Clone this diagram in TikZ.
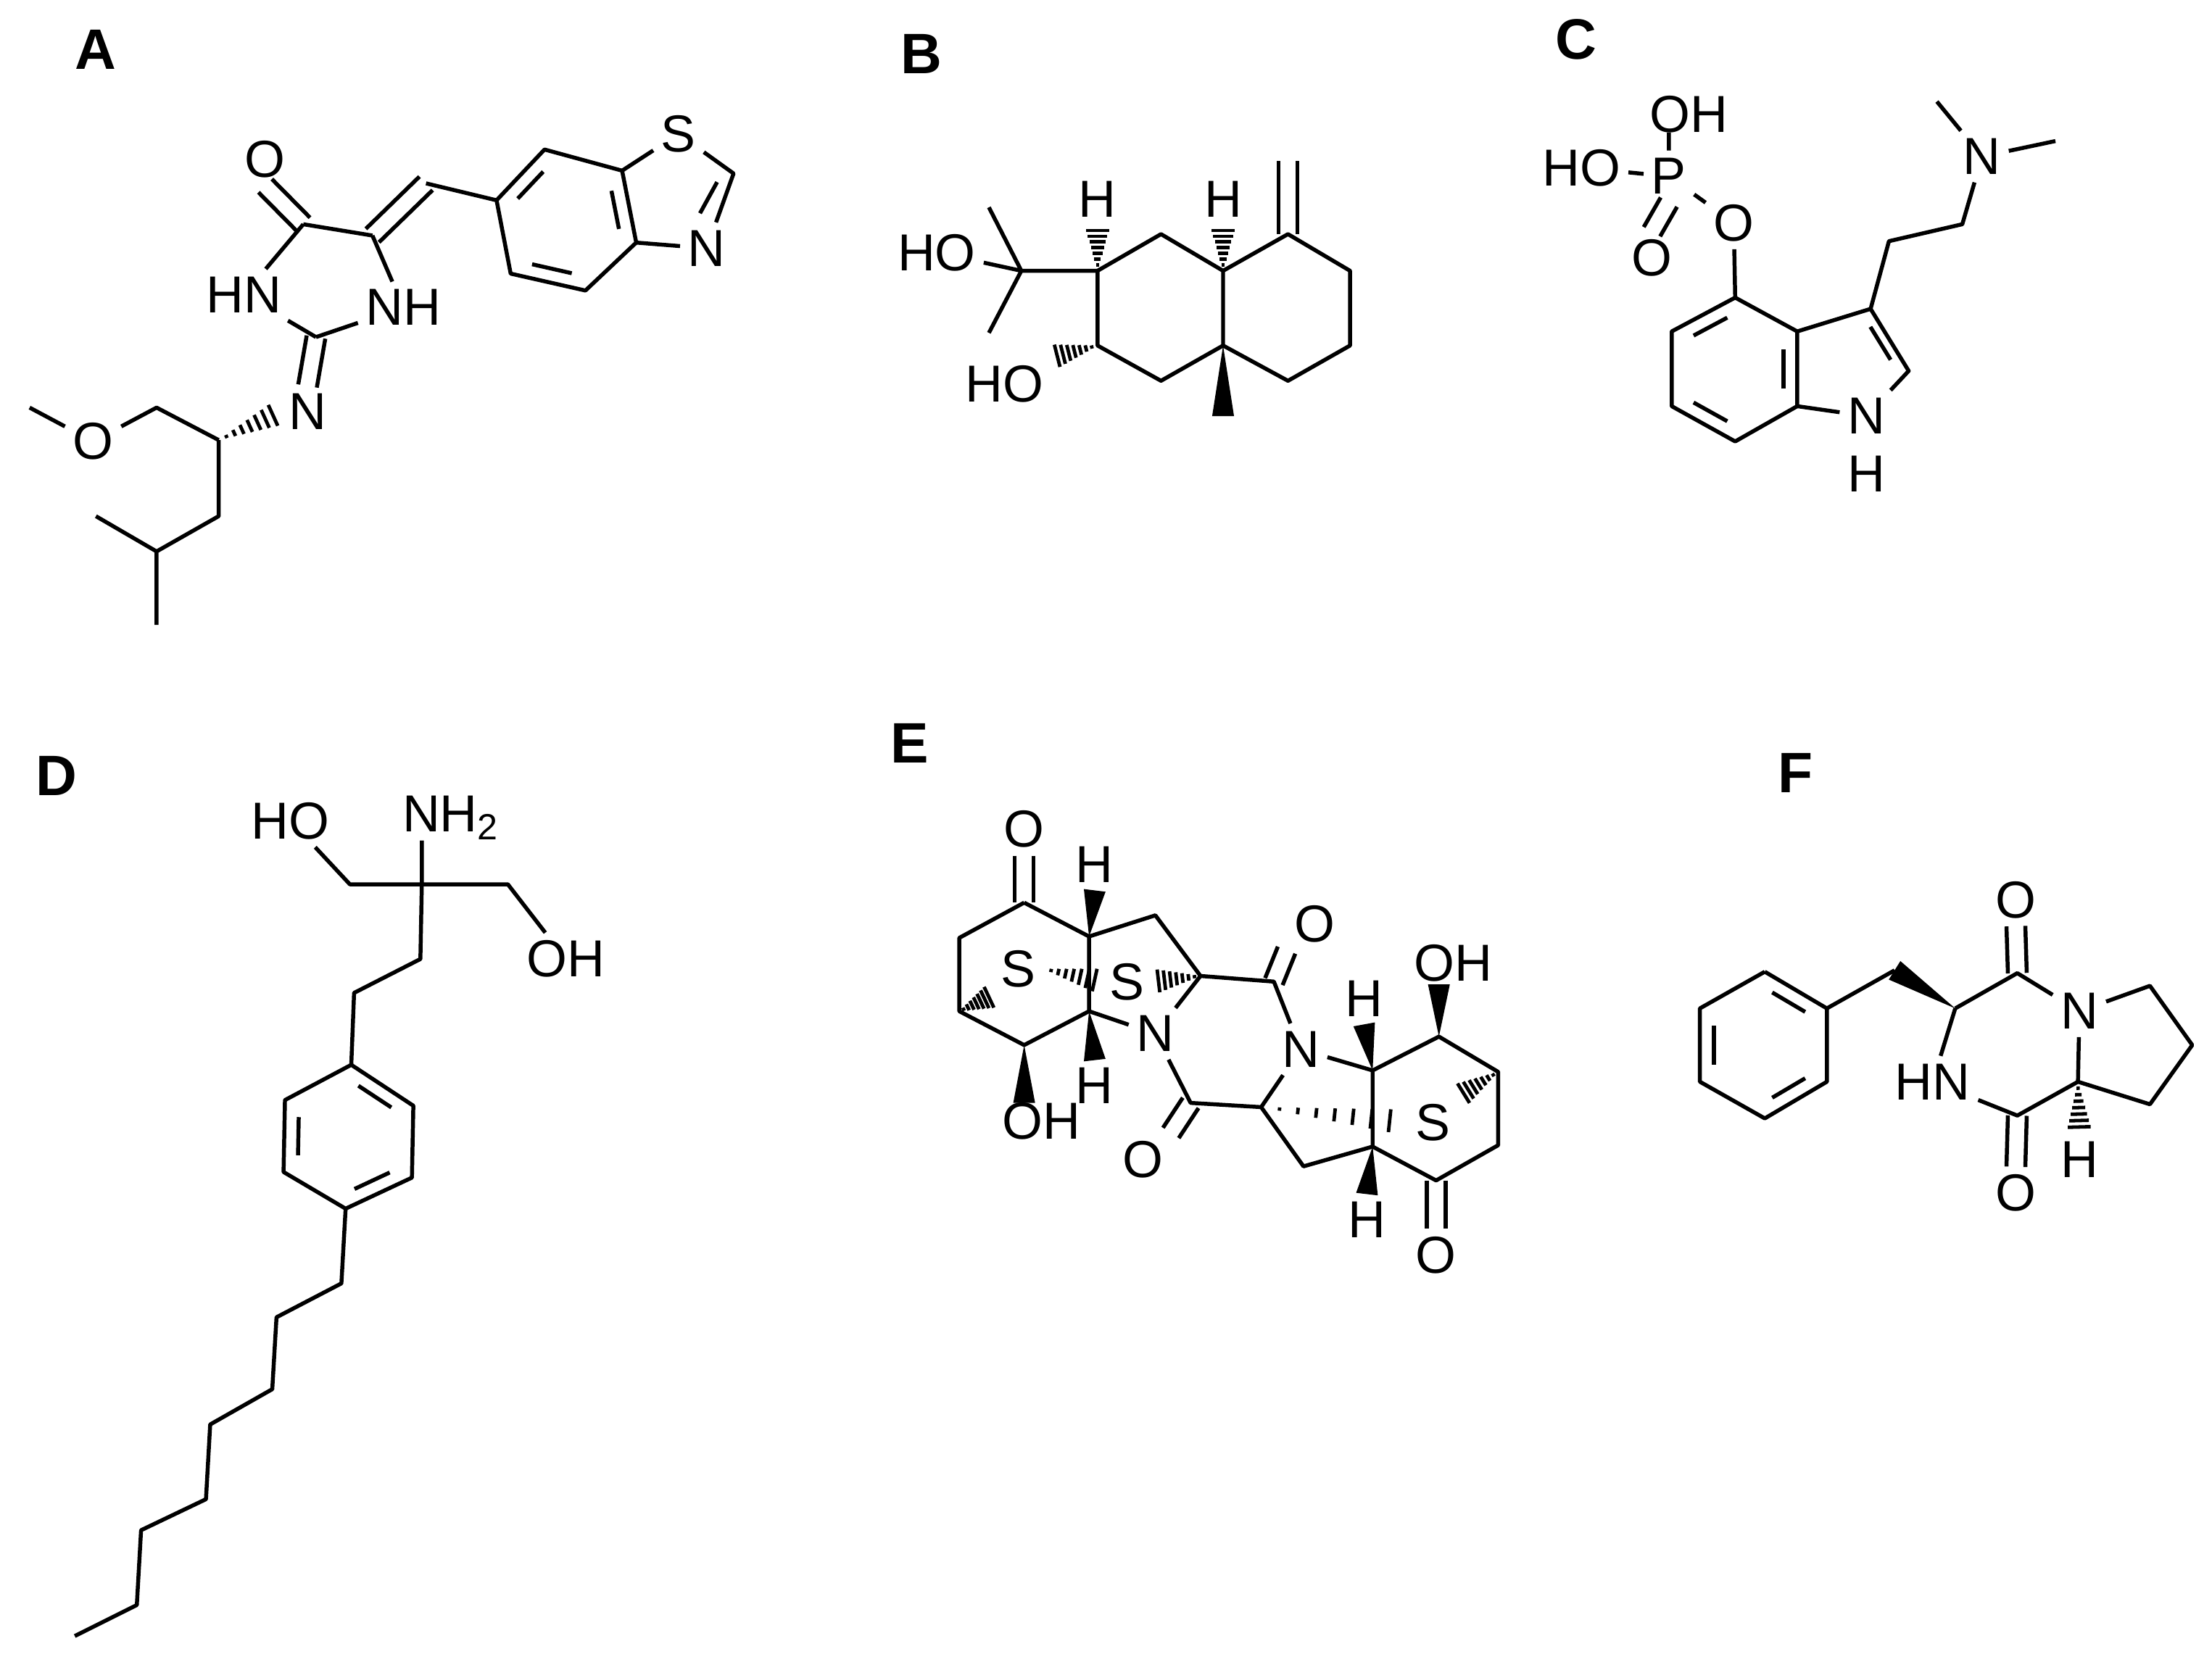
\documentclass[tikz,border=0pt]{standalone}
\usepackage{fontspec}
\setmainfont{Liberation Sans}
\usetikzlibrary{calc}
\tikzset{
  atom/.style={inner sep=1.2pt, font=\fontsize{10.5}{11}\selectfont},
  panel_label/.style={font=\fontsize{11.5}{12}\selectfont\bfseries},
  hash_line/.style={line width=0.7pt}
}
% double bond, inner ring line, hashed and solid wedges
\newcommand{\dbl}[2]{\draw ($(#1)!1.9pt!90:(#2)$) -- ($(#2)!1.9pt!-90:(#1)$); \draw ($(#1)!1.9pt!-90:(#2)$) -- ($(#2)!1.9pt!90:(#1)$);}
\newcommand{\innerb}[3]{\draw ($(#1)!0.16!(#2)!0.22!(#3)$) -- ($(#1)!0.84!(#2)!0.22!(#3)$);}
\newcommand{\hashb}[2]{\foreach \k in {1,...,7}{\draw[hash_line] ($(#1)!\k/8!(#2)!{\k*0.33pt}!90:(#2)$) -- ($(#1)!\k/8!(#2)!{\k*0.33pt}!-90:(#2)$);}}
\newcommand{\wedgeb}[2]{\fill (#1) -- ($(#2)!2.2pt!90:(#1)$) -- ($(#2)!2.2pt!-90:(#1)$) -- cycle;}
\begin{document}
\begin{tikzpicture}[x=0.01cm, y=-0.01cm, line width=0.8pt, line join=round]
\useasboundingbox (0,0) rectangle (1568,1178);
\node[panel_label] (lab_a) at (68,35) {A};
\node[panel_label] (lab_b) at (653,38) {B};
\node[panel_label] (lab_c) at (1117,28) {C};
\node[panel_label] (lab_d) at (40,550) {D};
\node[panel_label] (lab_e) at (645,527) {E};
\node[panel_label] (lab_f) at (1273,548) {F};
% A
\node[atom] (a_o) at (188,113) {O};
\coordinate (a_c4) at (215,159);
\coordinate (a_c5) at (264,167);
\coordinate (a_ch) at (302,130);
\node[atom] (a_hn) at (173,209) {HN};
\node[atom] (a_nh) at (286,218) {NH};
\coordinate (a_c2) at (224,239);
\node[atom] (a_n) at (218,292) {N};
\coordinate (a_cs) at (155,312);
\coordinate (a_ch2) at (111,289);
\node[atom] (a_om) at (66,313) {O};
\coordinate (a_me) at (21,289);
\coordinate (a_cb) at (155,366);
\coordinate (a_ci) at (111,391);
\coordinate (a_m1) at (68,366);
\coordinate (a_m2) at (111,443);
\coordinate (a_b1) at (352,142);
\coordinate (a_b2) at (386,106);
\coordinate (a_b3) at (441,121);
\coordinate (a_b4) at (451,172);
\coordinate (a_b5) at (415,206);
\coordinate (a_b6) at (362,194);
\coordinate (a_bz) at (401,157);
\node[atom] (a_s) at (481,95) {S};
\coordinate (a_ct) at (520,123);
\node[atom] (a_nt) at (501,176) {N};
\coordinate (a_tz) at (479,137);
\dbl{a_o.south}{a_c4}
\draw (a_c4) -- (a_c5) (a_c4) -- (a_hn) (a_hn) -- (a_c2) (a_c2) -- (a_nh) (a_nh) -- (a_c5);
\dbl{a_c5}{a_ch}
\dbl{a_c2}{a_n.north}
\hashb{a_cs}{a_n.west}
\draw (a_cs) -- (a_ch2) -- (a_om) -- (a_me);
\draw (a_cs) -- (a_cb) -- (a_ci) -- (a_m1) (a_ci) -- (a_m2);
\draw (a_ch) -- (a_b1) -- (a_b2) -- (a_b3) -- (a_b4) -- (a_b5) -- (a_b6) -- (a_b1);
\innerb{a_b1}{a_b2}{a_bz}
\innerb{a_b3}{a_b4}{a_bz}
\innerb{a_b5}{a_b6}{a_bz}
\draw (a_b3) -- (a_s) -- (a_ct) -- (a_nt) -- (a_b4);
\draw ($(a_ct)!0.1!(a_nt.north)!0.25!(a_tz)$) -- ($(a_ct)!0.95!(a_nt.north)!0.25!(a_tz)$);
% B
\node[atom] (b_ho1) at (664,179) {HO};
\coordinate (b_cq) at (724,192);
\coordinate (b_me1) at (701,147);
\coordinate (b_me2) at (701,236);
\coordinate (b_c2) at (778,192);
\node[atom] (b_h1) at (778,141) {H};
\coordinate (b_c1) at (823,166);
\coordinate (b_c8a) at (867,192);
\node[atom] (b_h2) at (867,141) {H};
\coordinate (b_c4a) at (867,245);
\coordinate (b_c3) at (778,245);
\node[atom] (b_ho2) at (712,272) {HO};
\coordinate (b_c4) at (823,270);
\coordinate (b_me3) at (867,295);
\coordinate (b_c8) at (913,166);
\coordinate (b_ch2) at (913,114);
\coordinate (b_c7) at (957,192);
\coordinate (b_c6) at (957,245);
\coordinate (b_c5) at (913,270);
\draw (b_ho1) -- (b_cq) (b_cq) -- (b_me1) (b_cq) -- (b_me2) (b_cq) -- (b_c2);
\draw (b_c2) -- (b_c1) -- (b_c8a) -- (b_c4a) -- (b_c4) -- (b_c3) -- (b_c2);
\draw (b_c8a) -- (b_c8) -- (b_c7) -- (b_c6) -- (b_c5) -- (b_c4a);
\dbl{b_c8}{b_ch2}
\hashb{b_c2}{b_h1.south}
\hashb{b_c8a}{b_h2.south}
\hashb{b_c3}{b_ho2.north east}
\wedgeb{b_c4a}{b_me3}
% C
\node[atom] (c_oh1) at (1197,81) {OH};
\coordinate (c_ot) at (1183,94);
\node[atom] (c_p) at (1183,125) {P};
\node[atom] (c_ho) at (1121,119) {HO};
\node[atom] (c_od) at (1171,183) {O};
\node[atom] (c_oe) at (1229,158) {O};
\coordinate (c_c4) at (1230,211);
\coordinate (c_c5) at (1185,235);
\coordinate (c_c6) at (1185,288);
\coordinate (c_c7) at (1230,313);
\coordinate (c_c7a) at (1274,288);
\coordinate (c_c3a) at (1274,235);
\coordinate (c_bz) at (1230,262);
\coordinate (c_c3) at (1326,219);
\coordinate (c_c2) at (1353,263);
\node[atom] (c_n1) at (1323,295) {N};
\node[atom] (c_h1) at (1323,336) {H};
\coordinate (c_pz) at (1310,252);
\coordinate (c_k1) at (1339,171);
\coordinate (c_k2) at (1391,159);
\node[atom] (c_nm) at (1405,111) {N};
\coordinate (c_m1) at (1373,72);
\coordinate (c_m2) at (1457,100);
\draw (c_p) -- (c_ot) (c_ho) -- (c_p) (c_p) -- (c_oe) (c_oe) -- (c_c4);
\dbl{c_p.south}{c_od.north}
\draw (c_c4) -- (c_c5) -- (c_c6) -- (c_c7) -- (c_c7a) -- (c_c3a) -- (c_c4);
\innerb{c_c4}{c_c5}{c_bz}
\innerb{c_c6}{c_c7}{c_bz}
\innerb{c_c7a}{c_c3a}{c_bz}
\draw (c_c3a) -- (c_c3) -- (c_c2) -- (c_n1) -- (c_c7a);
\innerb{c_c3}{c_c2}{c_pz}
\draw (c_c3) -- (c_k1) -- (c_k2) -- (c_nm) (c_nm) -- (c_m1) (c_nm) -- (c_m2);
% D
\node[atom] (d_ho) at (206,582) {HO};
\node[atom] (d_nh2) at (320,580) {NH\textsubscript{2}};
\coordinate (d_nb) at (299,596);
\node[atom] (d_oh) at (401,680) {OH};
\coordinate (d_cl) at (248,627);
\coordinate (d_cq) at (299,627);
\coordinate (d_cr) at (360,627);
\coordinate (d_k1) at (298,680);
\coordinate (d_k2) at (251,704);
\coordinate (d_r1) at (249,755);
\coordinate (d_r2) at (293,784);
\coordinate (d_r3) at (292,835);
\coordinate (d_r4) at (245,857);
\coordinate (d_r5) at (201,831);
\coordinate (d_r6) at (202,780);
\coordinate (d_rz) at (247,806);
\draw (d_ho) -- (d_cl) -- (d_cq) -- (d_cr) -- (d_oh) (d_cq) -- (d_nb);
\draw (d_cq) -- (d_k1) -- (d_k2) -- (d_r1);
\draw (d_r1) -- (d_r2) -- (d_r3) -- (d_r4) -- (d_r5) -- (d_r6) -- (d_r1);
\innerb{d_r1}{d_r2}{d_rz}
\innerb{d_r3}{d_r4}{d_rz}
\innerb{d_r5}{d_r6}{d_rz}
\draw (d_r4) -- (242,910) -- (196,934) -- (193,985) -- (149,1010) -- (146,1063) -- (100,1085) -- (97,1138) -- (53,1160);
% E
\node[atom] (e_o1) at (726,588) {O};
\coordinate (e_c1) at (726,640);
\coordinate (e_ca) at (680,665);
\coordinate (e_cb) at (680,717);
\coordinate (e_cc) at (726,741);
\node[atom] (e_oh1) at (738,795) {OH};
\coordinate (e_ob) at (726,782);
\coordinate (e_cd) at (772,664);
\node[atom] (e_h1) at (776,613) {H};
\coordinate (e_ce) at (772,717);
\node[atom] (e_h2) at (776,770) {H};
\coordinate (e_cf) at (819,649);
\coordinate (e_cq) at (851,692);
\node[atom] (e_n1) at (819,733) {N};
\coordinate (e_cg) at (903,696);
\node[atom] (e_o2) at (932,655) {O};
\node[atom] (e_n2) at (922,744) {N};
\coordinate (e_ch) at (844,782);
\node[atom] (e_o3) at (810,822) {O};
\coordinate (e_ci) at (894,785);
\node[atom] (e_s1) at (722,687) {S};
\node[atom] (e_s2) at (799,696) {S};
\coordinate (e_cj) at (973,759);
\node[atom] (e_h3) at (967,708) {H};
\coordinate (e_ck) at (1020,735);
\node[atom] (e_oh2) at (1030,683) {OH};
\coordinate (e_ot) at (1020,698);
\coordinate (e_cl) at (1062,760);
\coordinate (e_cm) at (1062,812);
\coordinate (e_cn) at (1018,837);
\node[atom] (e_o4) at (1018,890) {O};
\coordinate (e_co) at (973,813);
\node[atom] (e_h4) at (969,865) {H};
\coordinate (e_cp) at (924,827);
\node[atom] (e_s3) at (1016,796) {S};
\dbl{e_o1.south}{e_c1}
\draw (e_c1) -- (e_ca) -- (e_cb) -- (e_cc) -- (e_ce) -- (e_cd) -- (e_c1);
\draw (e_cd) -- (e_cf) -- (e_cq) -- (e_n1) -- (e_ce);
\draw (e_cq) -- (e_cg) -- (e_n2) (e_n1) -- (e_ch) -- (e_ci) -- (e_n2);
\dbl{e_cg}{e_o2.south west}
\dbl{e_ch}{e_o3.north east}
\wedgeb{e_cc}{e_ob}
\wedgeb{e_cd}{e_h1.south}
\wedgeb{e_ce}{e_h2.north}
\hashb{e_cb}{e_s1.south west}
\hashb{e_s1.east}{e_s2.west}
\hashb{e_cq}{e_s2.east}
\draw (e_n2) -- (e_cj) -- (e_ck) -- (e_cl) -- (e_cm) -- (e_cn) -- (e_co) -- (e_cj);
\draw (e_co) -- (e_cp) -- (e_ci);
\dbl{e_cn}{e_o4.north}
\wedgeb{e_cj}{e_h3.south}
\wedgeb{e_ck}{e_ot}
\wedgeb{e_co}{e_h4.north}
\hashb{e_ci}{e_s3.west}
\hashb{e_cl}{e_s3.north east}
% F
\coordinate (f_r1) at (1251,689);
\coordinate (f_r2) at (1295,715);
\coordinate (f_r3) at (1295,767);
\coordinate (f_r4) at (1251,793);
\coordinate (f_r5) at (1205,767);
\coordinate (f_r6) at (1205,715);
\coordinate (f_rz) at (1250,741);
\coordinate (f_ch2) at (1343,688);
\coordinate (f_cs) at (1386,715);
\coordinate (f_c1) at (1430,690);
\node[atom] (f_o1) at (1429,638) {O};
\node[atom] (f_n) at (1474,717) {N};
\coordinate (f_p1) at (1524,699);
\coordinate (f_p2) at (1554,741);
\coordinate (f_p3) at (1524,783);
\coordinate (f_c8a) at (1473,767);
\node[atom] (f_h) at (1474,822) {H};
\coordinate (f_c4) at (1430,791);
\node[atom] (f_o2) at (1429,846) {O};
\node[atom] (f_hn) at (1370,767) {HN};
\draw (f_r1) -- (f_r2) -- (f_r3) -- (f_r4) -- (f_r5) -- (f_r6) -- (f_r1);
\innerb{f_r1}{f_r2}{f_rz}
\innerb{f_r3}{f_r4}{f_rz}
\innerb{f_r5}{f_r6}{f_rz}
\draw (f_r2) -- (f_ch2);
\wedgeb{f_cs}{f_ch2}
\draw (f_cs) -- (f_c1) -- (f_n) -- (f_p1) -- (f_p2) -- (f_p3) -- (f_c8a) -- (f_n);
\draw (f_c8a) -- (f_c4) -- (f_hn) -- (f_cs);
\dbl{f_c1}{f_o1.south}
\dbl{f_c4}{f_o2.north}
\hashb{f_c8a}{f_h.north}
\end{tikzpicture}
\end{document}
